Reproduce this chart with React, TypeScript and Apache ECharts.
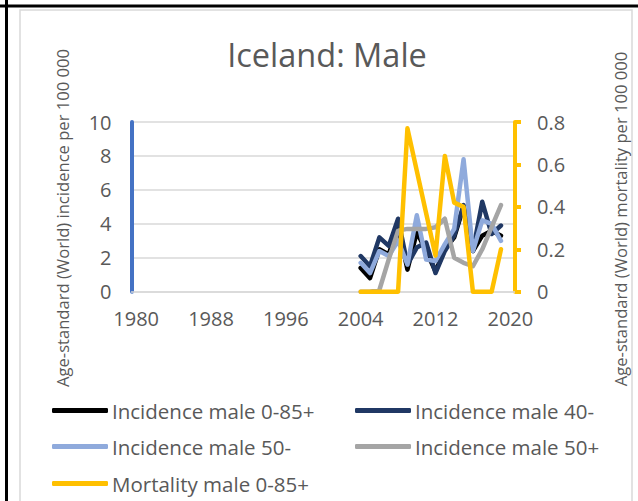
import { useEffect, useRef } from "react";
import * as echarts from "echarts";

const years = [
  "1980", "1981", "1982", "1983", "1984", "1985", "1986", "1987", "1988", "1989",
  "1990", "1991", "1992", "1993", "1994", "1995", "1996", "1997", "1998", "1999",
  "2000", "2001", "2002", "2003", "2004", "2005", "2006", "2007", "2008", "2009",
  "2010", "2011", "2012", "2013", "2014", "2015", "2016", "2017", "2018", "2019", "2020",
];
const dataStartYear = "2004";

// values 2004..2019
const incidence0to85 = [1.4, 0.8, 2.5, 2.2, 3.9, 1.3, 3.5, 2.4, 1.2, 2.5, 3.2, 5.0, 2.4, 3.3, 3.6, 3.3];
const incidence40minus = [2.1, 1.5, 3.2, 2.7, 4.3, 1.6, 2.6, 2.9, 1.1, 2.4, 3.3, 5.1, 2.4, 5.3, 3.4, 3.9];
const incidence50minus = [1.7, 1.1, 2.4, 2.1, 3.0, 1.6, 4.5, 1.9, 1.8, 2.8, 3.7, 7.8, 2.4, 4.2, 4.0, 3.0];
const incidence50plus = [0, 0, 0.1, 1.9, 3.6, 3.7, 3.7, 3.7, 3.8, 4.3, 2.0, 1.7, 1.5, 2.5, 3.8, 5.1];
const mortality0to85 = [0, 0, 0, 0, 0, 0.77, 0.57, 0.37, 0.17, 0.64, 0.42, 0.4, 0, 0, 0, 0.2];

const seriesNames = [
  "Incidence male 0-85+",
  "Incidence male 40-",
  "Incidence male 50-",
  "Incidence male 50+",
  "Mortality male 0-85+",
];
const seriesColors = ["#000000", "#203864", "#8FAADC", "#A5A5A5", "#FFC000"];

const leftTicks = { min: 0, max: 10, interval: 2 };
const rightTicks = { min: 0, max: 0.8, interval: 0.2 };

function pad(values: number[]): (number | null)[] {
  const start = years.indexOf(dataStartYear);
  const out: (number | null)[] = years.map(() => null);
  values.forEach((v, i) => {
    out[start + i] = v;
  });
  return out;
}

const FONT = "'Open Sans', 'Noto Sans', sans-serif";
const TXT = "#595959";

export default function App() {
  const ref = useRef<HTMLDivElement>(null);
  useEffect(() => {
    if (!ref.current) return;
    const chart = echarts.init(ref.current, undefined, { renderer: "svg" });
    const allData = [incidence0to85, incidence40minus, incidence50minus, incidence50plus, mortality0to85];
    const legendPos = [
      { left: 52, top: 400 },
      { left: 355, top: 400 },
      { left: 52, top: 436 },
      { left: 355, top: 436 },
      { left: 52, top: 473 },
    ];
    chart.setOption({
      animation: false,
      textStyle: { fontFamily: FONT },
      grid: { left: 131.5, right: 123, top: 122, bottom: 209.3, containLabel: false },
      graphic: [
        { type: "rect", shape: { x: 20, y: 10, width: 612, height: 500 }, style: { fill: "none", stroke: "#d9d9d9", lineWidth: 1.5 }, silent: true },
        { type: "line", shape: { x1: 0, y1: 6, x2: 638, y2: 6 }, style: { stroke: "#000", lineWidth: 3 }, silent: true },
        { type: "line", shape: { x1: 6.5, y1: 0, x2: 6.5, y2: 501 }, style: { stroke: "#000", lineWidth: 3 }, silent: true },
        {
          type: "text", x: 327, y: 54,
          style: { text: "Iceland: Male", fill: TXT, fontSize: 32.5, fontFamily: FONT, align: "center", verticalAlign: "middle" },
        },
        {
          type: "text", x: 62, y: 218, rotation: Math.PI / 2,
          style: { text: "Age-standard (World) incidence per 100 000", fill: TXT, fontSize: 16.6, fontFamily: FONT, align: "center", verticalAlign: "middle" },
        },
        {
          type: "text", x: 620, y: 219, rotation: Math.PI / 2,
          style: { text: "Age-standard (World) mortality per 100 000", fill: TXT, fontSize: 16.6, fontFamily: FONT, align: "center", verticalAlign: "middle" },
        },
      ],
      legend: seriesNames.map((name, i) => ({
        data: [name],
        left: legendPos[i].left,
        top: legendPos[i].top,
        padding: 0,
        icon: "roundRect",
        itemWidth: 56,
        itemHeight: 5,
        itemGap: 4,
        selectedMode: false,
        textStyle: { color: TXT, fontSize: 20.5, fontFamily: FONT, padding: [0, 0, 0, -1] },
      })),
      xAxis: {
        type: "category",
        data: years,
        boundaryGap: true,
        axisLine: { show: true, lineStyle: { color: "#d9d9d9", width: 1.5 } },
        axisTick: { show: false },
        axisLabel: { interval: 7, color: TXT, fontSize: 20, fontFamily: FONT, margin: 17 },
        splitLine: { show: false },
      },
      yAxis: [
        {
          type: "value",
          min: leftTicks.min,
          max: leftTicks.max,
          interval: leftTicks.interval,
          axisLine: { show: true, lineStyle: { color: "#4472C4", width: 4 } },
          axisTick: { show: false },
          axisLabel: { color: TXT, fontSize: 20, fontFamily: FONT, margin: 20 },
          splitLine: { show: true, lineStyle: { color: "#d9d9d9", width: 1.5 } },
        },
        {
          type: "value",
          min: rightTicks.min,
          max: rightTicks.max,
          interval: rightTicks.interval,
          position: "right",
          axisLine: { show: true, lineStyle: { color: "#FFC000", width: 4 } },
          axisTick: { show: true, inside: false, length: 6, lineStyle: { color: "#FFC000", width: 4 } },
          axisLabel: {
            color: TXT, fontSize: 20, fontFamily: FONT, margin: 22,
            formatter: (v: number) => String(Math.round(v * 10) / 10),
          },
          splitLine: { show: false },
        },
      ],
      series: seriesNames.map((name, i) => ({
        name,
        type: "line",
        yAxisIndex: i === 4 ? 1 : 0,
        data: pad(allData[i]),
        symbol: "none",
        connectNulls: false,
        itemStyle: { color: seriesColors[i] },
        lineStyle: { color: seriesColors[i], width: 4.5, cap: "round", join: "round" },
        z: 2 + i,
      })),
    });
    return () => chart.dispose();
  }, []);
  return <div ref={ref} style={{ position: "fixed", left: 0, top: 0, width: 638, height: 501, background: "#fff" }} />;
}
